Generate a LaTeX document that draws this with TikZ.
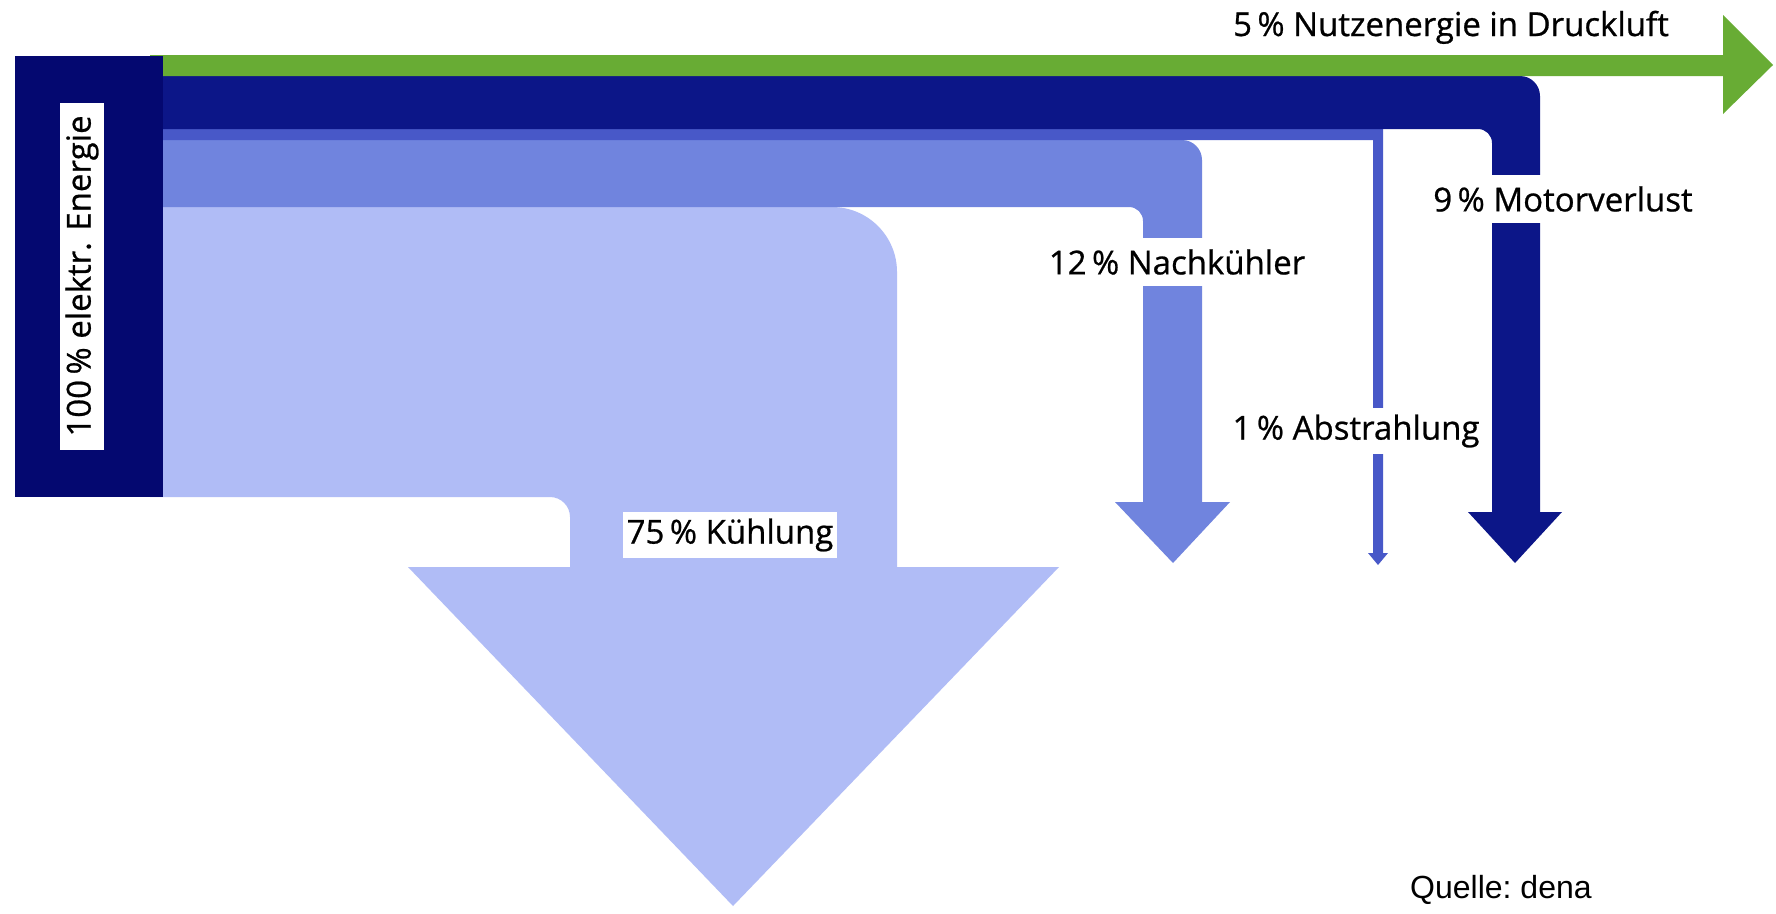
\documentclass[tikz,border=0pt]{standalone}
\usepackage{fontspec}
\setmainfont{Open Sans}[BoldFont={Open Sans}, BoldFeatures={FakeBold=0.7}]
\newfontfamily\arialfont{Liberation Sans}
\definecolor{cbox}{RGB}{4,8,112}
\definecolor{cmotor}{RGB}{12,22,136}
\definecolor{cgreen}{RGB}{104,172,52}
\definecolor{cabst}{RGB}{72,88,200}
\definecolor{cnach}{RGB}{112,132,222}
\definecolor{ckuehl}{RGB}{176,188,246}
\begin{document}
\begin{tikzpicture}[x=1pt,y=-1pt,
  lbl/.style={fill=white, inner xsep=4pt, inner ysep=0pt, minimum height=48pt,
    font=\fontsize{33}{35}\selectfont\bfseries, text=black},
  plain/.style={font=\fontsize{33}{35}\selectfont\bfseries, text=black, inner sep=0pt}]
\useasboundingbox (0,0) rectangle (1776,913);
\fill[white] (0,0) rectangle (1776,913);
% 75 % Kuehlung
\fill[ckuehl] (150,207) -- (700,207) [rounded corners=65pt] -- (897,207) -- (897,400)
  [sharp corners] -- (897,567) -- (1059,567) -- (733,906) -- (408,567) -- (570,567)
  -- (570,530) [rounded corners=20pt] -- (570,497) -- (300,497) [sharp corners] -- (150,497) -- cycle;
% 12 % Nachkuehler
\fill[cnach] (150,140) -- (1100,140) [rounded corners=20pt] -- (1202,140) -- (1202,300)
  [sharp corners] -- (1202,502) -- (1230,502) -- (1173,563) -- (1115,502) -- (1143,502)
  -- (1143,260) [rounded corners=14pt] -- (1143,207) -- (1000,207) [sharp corners] -- (150,207) -- cycle;
% 1 % Abstrahlung
\fill[cabst] (150,129) -- (1383,129) -- (1383,553) -- (1388,553) -- (1378,565) -- (1368,553)
  -- (1373,553) -- (1373,140) -- (150,140) -- cycle;
% 9 % Motorverlust
\fill[cmotor] (150,76) -- (1400,76) [rounded corners=20pt] -- (1540,76) -- (1540,300)
  [sharp corners] -- (1540,512) -- (1562,512) -- (1515,563) -- (1468,512) -- (1492,512)
  -- (1492,250) [rounded corners=14pt] -- (1492,129) -- (1420,129) [sharp corners] -- (150,129) -- cycle;
% 5 % Nutzenergie
\fill[cgreen] (150,55) -- (1723,55) -- (1723,15) -- (1773,65) -- (1723,114) -- (1723,76) -- (150,76) -- cycle;
% 100 % box
\fill[cbox] (15,56) rectangle (163,497);
% labels
\node[plain, anchor=base east] (nutz) at (1669,36) {5\,\% Nutzenergie in Druckluft};
\node[lbl] (motor) at (1563,199) {9\,\% Motorverlust};
\node[lbl] (nach) at (1177,262) {12\,\% Nachkühler};
\node[lbl, minimum height=46pt] (abst) at (1356,431) {1\,\% Abstrahlung};
\node[lbl, minimum height=46pt] (kuehl) at (730,535) {75\,\% Kühlung};
\node[lbl, rotate=90, minimum height=44pt, minimum width=347pt] (elek) at (82,276) {100\,\% elektr. Energie};
\node[anchor=base west, inner sep=0pt, font=\arialfont\fontsize{32}{34}\selectfont] (quelle) at (1410,898) {\frenchspacing Quelle: dena};
\end{tikzpicture}
\end{document}
